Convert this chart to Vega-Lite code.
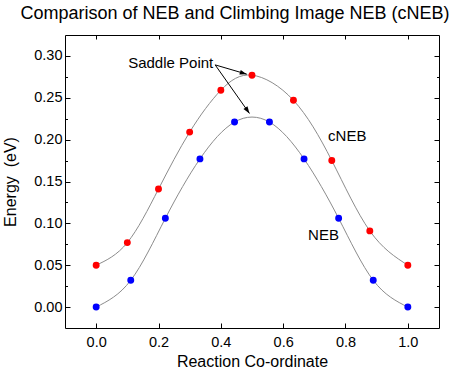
{
  "$schema": "https://vega.github.io/schema/vega-lite/v6.json",
  "width": 374,
  "height": 293,
  "autosize": {"type": "none"},
  "padding": {"left": 65, "top": 35, "right": 19, "bottom": 45},
  "background": "white",
  "config": {
    "view": {"stroke": null},
    "font": "Liberation Sans",
    "axis": {"domainColor": "black", "tickColor": "black", "labelColor": "black", "titleColor": "black", "grid": false, "labelFont": "Liberation Sans", "titleFont": "Liberation Sans", "titleFontWeight": "normal", "labelFontSize": 14.5, "titleFontSize": 16, "domainWidth": 1, "tickWidth": 1}
  },
  "title": {"text": "Comparison of NEB and Climbing Image NEB (cNEB)", "fontSize": 18, "fontWeight": "normal", "font": "Liberation Sans", "color": "black", "anchor": "middle", "frame": "group", "dx": -17, "offset": -2, "baseline": "alphabetic"},
  "datasets": {
    "images": [
      {"series": "cNEB", "coord": 0.0, "energy": 0.050},
      {"series": "cNEB", "coord": 0.1, "energy": 0.077},
      {"series": "cNEB", "coord": 0.2, "energy": 0.141},
      {"series": "cNEB", "coord": 0.3, "energy": 0.209},
      {"series": "cNEB", "coord": 0.4, "energy": 0.259},
      {"series": "cNEB", "coord": 0.5, "energy": 0.277},
      {"series": "cNEB", "coord": 0.633, "energy": 0.247},
      {"series": "cNEB", "coord": 0.756, "energy": 0.175},
      {"series": "cNEB", "coord": 0.878, "energy": 0.091},
      {"series": "cNEB", "coord": 1.0, "energy": 0.050},
      {"series": "NEB", "coord": 0.0, "energy": 0.0},
      {"series": "NEB", "coord": 0.111, "energy": 0.032},
      {"series": "NEB", "coord": 0.222, "energy": 0.106},
      {"series": "NEB", "coord": 0.333, "energy": 0.177},
      {"series": "NEB", "coord": 0.444, "energy": 0.221},
      {"series": "NEB", "coord": 0.556, "energy": 0.221},
      {"series": "NEB", "coord": 0.667, "energy": 0.177},
      {"series": "NEB", "coord": 0.778, "energy": 0.106},
      {"series": "NEB", "coord": 0.889, "energy": 0.032},
      {"series": "NEB", "coord": 1.0, "energy": 0.0}
    ],
    "labels": [
      {"label": "Saddle Point", "coord": 0.1027, "energy": 0.292},
      {"label": "cNEB", "coord": 0.744, "energy": 0.2048},
      {"label": "NEB", "coord": 0.680, "energy": 0.0857}
    ],
    "arrows": [
      {"target": "cNEB", "coord": 0.3818, "energy": 0.2893, "coord2": 0.4833, "energy2": 0.2782},
      {"target": "NEB", "coord": 0.3818, "energy": 0.2893, "coord2": 0.4919, "energy2": 0.2313}
    ]
  },
  "layer": [
    {
      "data": {"name": "images"},
      "mark": {"type": "line", "interpolate": "natural", "color": "#8c8c8c", "strokeWidth": 1},
      "encoding": {
        "x": {"field": "coord", "type": "quantitative", "scale": {"domain": [-0.1, 1.1], "nice": false, "zero": false},
          "axis": {"orient": "bottom", "title": "Reaction Co-ordinate", "values": [0, 0.2, 0.4, 0.6, 0.8, 1.0], "format": ".1f", "tickSize": -5, "labelPadding": 12, "titlePadding": 5}},
        "y": {"field": "energy", "type": "quantitative", "scale": {"domain": [-0.025, 0.325], "nice": false, "zero": false},
          "axis": {"orient": "left", "title": "Energy \u00a0(eV)", "values": [0, 0.025, 0.05, 0.075, 0.1, 0.125, 0.15, 0.175, 0.2, 0.225, 0.25, 0.275, 0.3],
            "labelExpr": "round(datum.value*1000) % 50 == 0 ? format(datum.value, '.2f') : ''",
            "tickSize": {"condition": {"test": "round(datum.value*1000) % 50 == 0", "value": -5}, "value": -2.5},
            "labelPadding": 8, "titlePadding": 15}},
        "detail": {"field": "series"}
      }
    },
    {
      "data": {"name": "images"},
      "mark": {"type": "point", "filled": true, "opacity": 1, "size": 48, "strokeWidth": 0},
      "encoding": {
        "x": {"field": "coord", "type": "quantitative", "axis": null},
        "y": {"field": "energy", "type": "quantitative", "axis": null},
        "color": {"field": "series", "type": "nominal", "scale": {"domain": ["cNEB", "NEB"], "range": ["#ff0000", "#0000ff"]}, "legend": null}
      }
    },
    {
      "data": {"name": "arrows"},
      "mark": {"type": "rule", "color": "black", "strokeWidth": 1},
      "encoding": {
        "x": {"field": "coord", "type": "quantitative", "axis": null},
        "y": {"field": "energy", "type": "quantitative", "axis": null},
        "x2": {"field": "coord2"},
        "y2": {"field": "energy2"}
      }
    },
    {
      "data": {"name": "arrows"},
      "transform": [{"filter": "datum.target == 'cNEB'"}],
      "mark": {"type": "point", "shape": "M0,0L-0.7,2L0.7,2Z", "filled": true, "color": "black", "opacity": 1, "size": 49, "angle": 106, "strokeWidth": 0},
      "encoding": {
        "x": {"field": "coord2", "type": "quantitative", "axis": null},
        "y": {"field": "energy2", "type": "quantitative", "axis": null}
      }
    },
    {
      "data": {"name": "arrows"},
      "transform": [{"filter": "datum.target == 'NEB'"}],
      "mark": {"type": "point", "shape": "M0,0L-0.7,2L0.7,2Z", "filled": true, "color": "black", "opacity": 1, "size": 49, "angle": 145, "strokeWidth": 0},
      "encoding": {
        "x": {"field": "coord2", "type": "quantitative", "axis": null},
        "y": {"field": "energy2", "type": "quantitative", "axis": null}
      }
    },
    {
      "data": {"name": "labels"},
      "mark": {"type": "text", "align": "left", "baseline": "middle", "fontSize": 15, "font": "Liberation Sans", "color": "black"},
      "encoding": {
        "x": {"field": "coord", "type": "quantitative", "axis": null},
        "y": {"field": "energy", "type": "quantitative", "axis": null},
        "text": {"field": "label"}
      }
    },
    {
      "data": {"name": "images"},
      "mark": {"type": "point", "opacity": 0},
      "encoding": {
        "x": {"field": "coord", "type": "quantitative",
          "axis": {"orient": "top", "title": null, "labels": false, "values": [0, 0.2, 0.4, 0.6, 0.8, 1.0], "tickSize": -4}},
        "y": {"field": "energy", "type": "quantitative",
          "axis": {"orient": "right", "title": null, "labels": false, "values": [0, 0.025, 0.05, 0.075, 0.1, 0.125, 0.15, 0.175, 0.2, 0.225, 0.25, 0.275, 0.3],
            "tickSize": {"condition": {"test": "round(datum.value*1000) % 50 == 0", "value": -5}, "value": -2.5}}}
      }
    }
  ],
  "resolve": {"axis": {"x": "independent", "y": "independent"}}
}
